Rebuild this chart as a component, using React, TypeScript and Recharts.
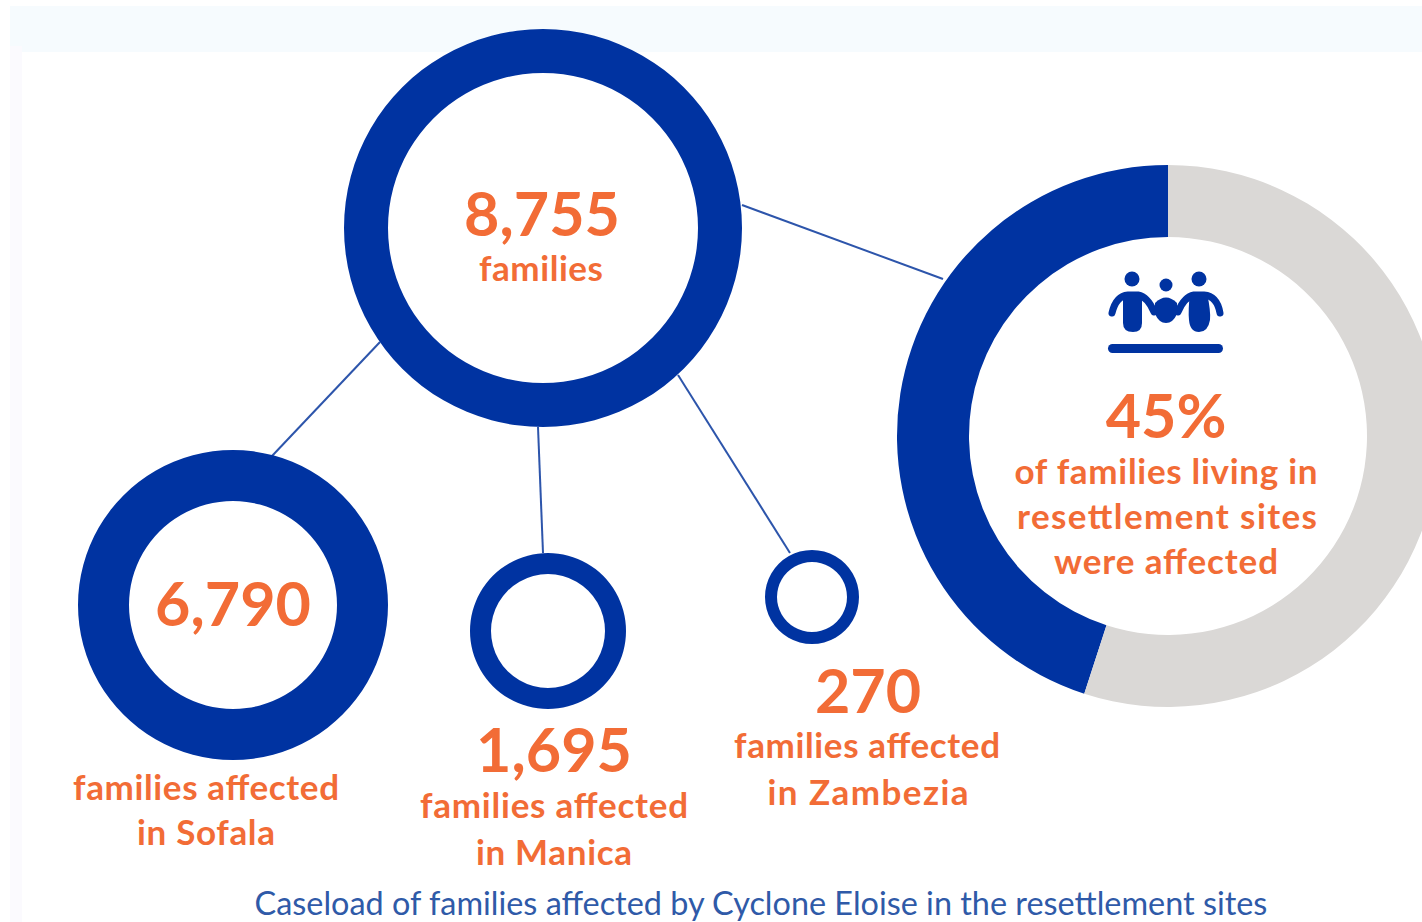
import { Pie, PieChart } from 'recharts';

const BLUE = '#0033A1';
const ORANGE = '#F26C36';
const GREY = '#DAD8D6';
const LINE = '#2D55AB';

// rings, sized roughly by caseload
const totalRing = [{ name: 'Total', value: 8755 }];
const sofalaRing = [{ name: 'Sofala', value: 6790 }];
const manicaRing = [{ name: 'Manica', value: 1695 }];
const zambeziaRing = [{ name: 'Zambezia', value: 270 }];

// 45% of families in resettlement sites were affected
const resettlementShare = [
  { name: 'Affected', value: 45, fill: BLUE },
  { name: 'Other', value: 55, fill: GREY },
];

const FONT = 'Lato, sans-serif';

function Big({ x, y, children }: { x: number; y: number; children: string }) {
  return (
    <text x={x} y={y} textAnchor="middle" fontFamily={FONT} fontWeight={700} fontSize={61} fill={ORANGE}>
      {children}
    </text>
  );
}

// width is the measured line width, the original face runs wider than Lato
function Small({ x, y, width, children }: { x: number; y: number; width: number; children: string }) {
  return (
    <text x={x} y={y} textAnchor="middle" fontFamily={FONT} fontWeight={700} fontSize={35} textLength={width} lengthAdjust="spacing" fill={ORANGE}>
      {children}
    </text>
  );
}

function Ring({ data, cx, cy, inner, outer }: { data: { name: string; value: number }[]; cx: number; cy: number; inner: number; outer: number }) {
  return (
    <Pie
      data={data}
      dataKey="value"
      cx={cx}
      cy={cy}
      innerRadius={inner}
      outerRadius={outer}
      startAngle={90}
      endAngle={450}
      fill={BLUE}
      stroke="none"
      isAnimationActive={false}
    />
  );
}

export default function App() {
  return (
    <div style={{ position: 'absolute', left: 0, top: 0, width: 1422, height: 922, background: '#fff', overflow: 'hidden' }}>
      <div style={{ position: 'absolute', left: 10, top: 6, width: 1412, height: 46, background: '#F6FBFE' }} />
      <div style={{ position: 'absolute', left: 10, top: 46, width: 12, height: 876, background: '#FBFAFE' }} />
      <PieChart width={1422} height={922} margin={{ top: 0, right: 0, bottom: 0, left: 0 }} style={{ position: 'absolute', left: 0, top: 0 }}>
        {/* connectors */}
        <line x1={742} y1={205} x2={943} y2={279} stroke={LINE} strokeWidth={2} />
        <line x1={380} y1={342} x2={272} y2={456} stroke={LINE} strokeWidth={2} />
        <line x1={538} y1={427} x2={543} y2={553} stroke={LINE} strokeWidth={2} />
        <line x1={678} y1={375} x2={790} y2={553} stroke={LINE} strokeWidth={2} />

        {Ring({ data: totalRing, cx: 543, cy: 228, inner: 155, outer: 199 })}
        {Ring({ data: sofalaRing, cx: 233, cy: 605, inner: 104, outer: 155 })}
        {Ring({ data: manicaRing, cx: 548, cy: 631, inner: 57, outer: 78 })}
        {Ring({ data: zambeziaRing, cx: 812, cy: 597, inner: 35, outer: 47 })}
        <Pie
          data={resettlementShare}
          dataKey="value"
          cx={1168}
          cy={436}
          innerRadius={199}
          outerRadius={271}
          startAngle={90}
          endAngle={450}
          stroke="none"
          isAnimationActive={false}
        />

        {/* family icon */}
        <g fill={BLUE} stroke={BLUE} strokeLinecap="round" strokeLinejoin="round">
          <circle cx={1132} cy={279} r={7.5} stroke="none" />
          <circle cx={1166} cy={285} r={6.5} stroke="none" />
          <circle cx={1199} cy={279} r={7.5} stroke="none" />
          <path d="M1112 313 Q1116 296 1128 295 H1138 Q1148 297 1154 312" fill="none" strokeWidth={7} />
          <path d="M1178 312 Q1184 297 1194 295 H1204 Q1217 296 1220 313" fill="none" strokeWidth={7} />
          <path d="M1123 293 H1142 V323 Q1142 332 1133 332 Q1123 332 1123 323 Z" stroke="none" />
          <path d="M1190 293 H1207 Q1211 312 1210 320 Q1208 332 1199 332 Q1190 332 1189 320 Q1188 310 1190 293 Z" stroke="none" />
          <path d="M1155 303 Q1166 292 1177 303 L1177 314 Q1173 323 1166 323 Q1159 323 1155 314 Z" stroke="none" />
          <rect x={1108} y={344} width={115} height={9} rx={4.5} stroke="none" />
        </g>

        <Big x={542} y={236}>8,755</Big>
        <Small x={541} y={281} width={124}>families</Small>
        <Big x={233} y={626}>6,790</Big>
        <Small x={206} y={800} width={266}>families affected</Small>
        <Small x={206} y={845} width={138}>in Sofala</Small>
        <Big x={554} y={772}>1,695</Big>
        <Small x={554} y={818} width={268}>families affected</Small>
        <Small x={554} y={865} width={156}>in Manica</Small>
        <Big x={868} y={713}>270</Big>
        <Small x={867} y={758} width={266}>families affected</Small>
        <Small x={868} y={805} width={201}>in Zambezia</Small>
        <Big x={1166} y={438}>45%</Big>
        <Small x={1166} y={484} width={303}>of families living in</Small>
        <Small x={1167} y={529} width={300}>resettlement sites</Small>
        <Small x={1166} y={574} width={224}>were affected</Small>

        <text x={761} y={915} textAnchor="middle" fontFamily={FONT} fontWeight={400} fontSize={32.4} fill="#2F5AA8">
          Caseload of families affected by Cyclone Eloise in the resettlement sites
        </text>
      </PieChart>
    </div>
  );
}
